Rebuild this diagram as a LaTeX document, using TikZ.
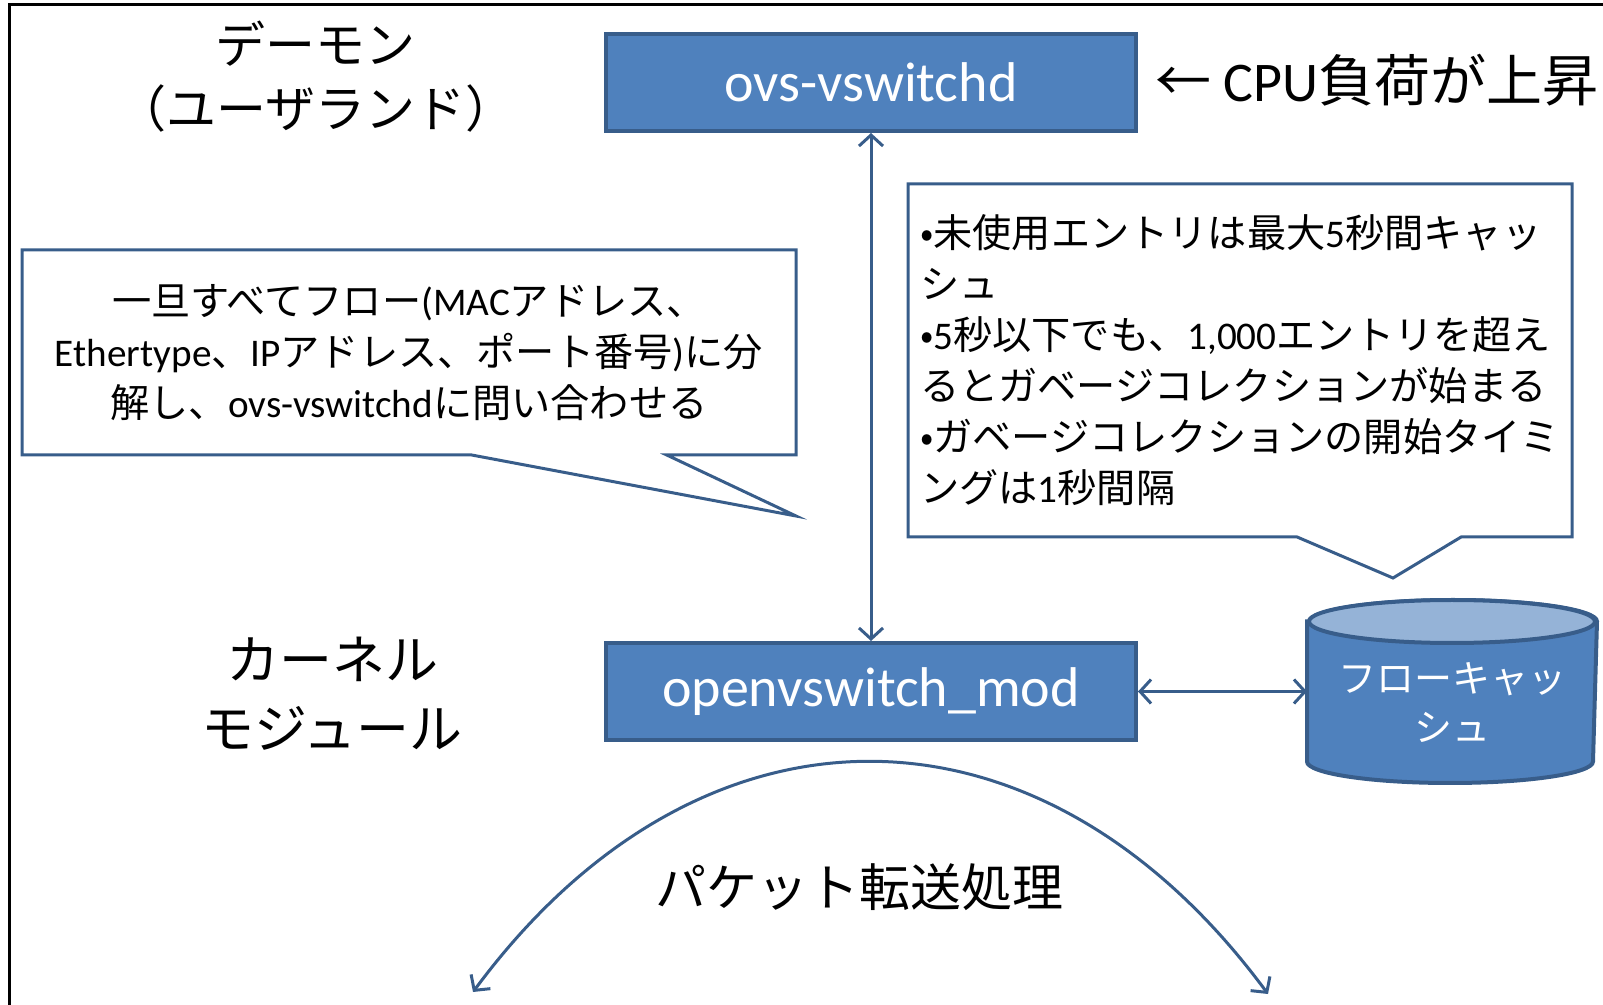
\documentclass[tikz,border=0pt]{standalone}
\usepackage{fontspec}
\setmainfont{Noto Sans CJK JP}
\newfontfamily\lat{Carlito}
\usepackage{tikz}
\usetikzlibrary{arrows.meta, calc}
\definecolor{boxblue}{HTML}{4F81BD}
\definecolor{edgeblue}{HTML}{385D8A}
\definecolor{capblue}{HTML}{95B3D7}

\begin{document}
\begin{tikzpicture}[x=0.5pt, y=-0.5pt,
    procbox/.style={draw=edgeblue, fill=boxblue, line width=2pt, minimum width=265pt, minimum height=48.5pt, text=white, font=\lat\fontsize{28}{34}\selectfont},
    note/.style={inner sep=0pt, outer sep=0pt, font=\fontsize{19.6}{25.5}\selectfont},
    noteline/.style={draw=edgeblue, line width=1.5pt, line join=miter},
    link/.style={edgeblue, line width=1.5pt, {Straight Barb[length=5.5pt,width=12pt]}-{Straight Barb[length=5.5pt,width=12pt]}},
    layer/.style={align=center, font=\fontsize{25}{32}\selectfont}]
    \useasboundingbox (0,0) rectangle (1603,1005);
    % Frame
    \draw[line width=1.5pt] (9,1005) -- (9,5) -- (1603,5);
    % Layer labels
    \node[layer] (daemon) at (316,76.5) {デーモン\\（ユーザランド）};
    \node[layer, font=\fontsize{26.5}{34.5}\selectfont] (kernel) at (332,693.5) {カーネル\\モジュール};
    % Processes
    \node[procbox] (ovs) at (871,82.5) {ovs-vswitchd};
    \node[procbox] (mod) at (871,691.5) {openvswitch\_mod};
    \node[anchor=west, font=\fontsize{28}{32}\selectfont] (cpu) at (1148,80) {← {\lat CPU}負荷が上昇};
    % Flow cache (cylinder)
    \node[minimum width=143pt, minimum height=89.5pt, inner sep=0pt, outer sep=1pt] (cache) at (1452,691.5) {};
    \draw[edgeblue, line width=2pt, fill=boxblue] ($(cache.north west)+(0,21.5)$) -- ($(cache.south west)+(0,-21.5)$)
        arc[start angle=180, end angle=360, x radius=71.5pt, y radius=10.75pt]
        -- ($(cache.north east)+(0,21.5)$)
        arc[start angle=0, end angle=180, x radius=71.5pt, y radius=10.75pt] -- cycle;
    \draw[edgeblue, line width=2pt, fill=capblue] ($(cache.north)+(0,21.5)$) ellipse [x radius=71.5pt, y radius=10.75pt];
    \node[align=center, text=white, font=\fontsize{19}{24.5}\selectfont] (cachetext) at ($(cache.center)+(0,11)$) {フローキャッ\\シュ};
    % Connections
    \draw[link] (ovs) -- (mod);
    \draw[link] (mod) -- (cache);
    % Left note
    \node[note, align=center, minimum width=387pt, minimum height=102.5pt] (lnote) at (409,352.5)
        {一旦すべてフロー{\lat (MAC}アドレス、\\{\lat Ethertype}、{\lat IP}アドレス、ポート番号{\lat )}に分\\解し、{\lat ovs-vswitchd}に問い合わせる};
    \coordinate (ltip) at (796,516);
    \draw[noteline] (lnote.south west) -- (lnote.north west) -- (lnote.north east) -- (lnote.south east)
        -- ($(lnote.south west)!0.833!(lnote.south east)$) -- (ltip)
        -- ($(lnote.south west)!0.581!(lnote.south east)$) -- cycle;
    % Right note
    \node[note, align=left, minimum width=332pt, minimum height=176.5pt] (rnote) at (1240,360.5)
        {•未使用エントリは最大{\lat 5}秒間キャッ\\シュ\\•{\lat 5}秒以下でも、{\lat 1,000}エントリを超え\\るとガベージコレクションが始まる\\•ガベージコレクションの開始タイミ\\ングは{\lat 1}秒間隔};
    \coordinate (rtip) at (1393,578);
    \draw[noteline] (rnote.south west) -- (rnote.north west) -- (rnote.north east) -- (rnote.south east)
        -- ($(rnote.south west)!0.833!(rnote.south east)$) -- (rtip)
        -- ($(rnote.south west)!0.586!(rnote.south east)$) -- cycle;
    % Packet forwarding
    \coordinate (fwdl) at (473,992);
    \coordinate (fwdr) at (1268,994);
    \draw[link] (fwdl) .. controls (700,685) and (1040,685) .. (fwdr);
    \node[layer, font=\fontsize{25.5}{32}\selectfont] (fwd) at (859,887) {パケット転送処理};
\end{tikzpicture}
\end{document}
